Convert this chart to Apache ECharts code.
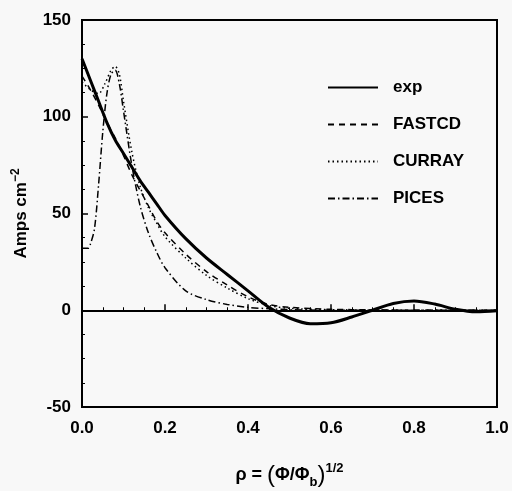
<!DOCTYPE html>
<html>
<head>
<meta charset="utf-8">
<script src="https://cdn.jsdelivr.net/npm/echarts@6/dist/echarts.min.js"></script>
<style>
  html, body { margin: 0; padding: 0; background: #f8f8f8; }
  #chart { width: 512px; height: 491px; }
</style>
</head>
<body>
<div id="chart"></div>
<script>
// [rho, Amps cm^-2]
const expData = [
  [0, 130], [0.02, 119], [0.04, 108], [0.06, 97], [0.08, 88], [0.1, 81],
  [0.12, 74], [0.14, 67], [0.16, 61], [0.18, 55], [0.2, 49], [0.25, 37],
  [0.3, 27], [0.35, 18.5], [0.4, 10], [0.45, 1.5], [0.5, -4], [0.55, -7],
  [0.6, -6.5], [0.65, -3.5], [0.7, 0], [0.75, 3.5], [0.8, 4.8], [0.85, 3.2],
  [0.9, 0.5], [0.95, -0.8], [1.0, -0.3]
];
const fastcdData = [
  [0, 121], [0.02, 114], [0.04, 106], [0.06, 97], [0.08, 89], [0.1, 80],
  [0.12, 70], [0.14, 62], [0.16, 54], [0.18, 46], [0.2, 40], [0.25, 29],
  [0.3, 20], [0.35, 13], [0.4, 7], [0.45, 3], [0.5, 1.5], [0.6, 0.5],
  [0.7, 0.2], [0.8, 0], [1.0, 0]
];
const currayData = [
  [0, 118], [0.02, 114], [0.04, 112], [0.055, 117], [0.07, 124], [0.08, 126],
  [0.09, 122], [0.1, 108], [0.12, 82], [0.14, 64], [0.16, 53], [0.18, 45],
  [0.2, 38], [0.25, 27], [0.3, 18], [0.35, 11.5], [0.4, 6], [0.45, 2.5],
  [0.5, 1], [0.6, 0.3], [0.8, 0], [1.0, 0]
];
const picesData = [
  [0, 32], [0.015, 32], [0.02, 34], [0.03, 42], [0.04, 65], [0.05, 92],
  [0.06, 112], [0.07, 122], [0.08, 124], [0.09, 117], [0.1, 103], [0.12, 75],
  [0.14, 54], [0.16, 40], [0.18, 30], [0.2, 22], [0.25, 10], [0.3, 5.5],
  [0.35, 3], [0.4, 1.5], [0.45, 0.8], [0.5, 0.3], [0.6, 0], [1.0, 0]
];
const seriesNames = ['exp', 'FASTCD', 'CURRAY', 'PICES'];

const chart = echarts.init(document.getElementById('chart'));
const font = 'Liberation Sans, Arial, sans-serif';

function lineSeries(name, data, width, type) {
  return {
    name: name,
    type: 'line',
    data: data,
    showSymbol: false,
    symbol: 'none',
    smooth: 0.3,
    lineStyle: { color: '#000', width: width, type: type },
    itemStyle: { color: '#000' }
  };
}

const series = [
  lineSeries(seriesNames[0], expData, 3, 'solid'),
  lineSeries(seriesNames[1], fastcdData, 1.5, [6, 5]),
  lineSeries(seriesNames[2], currayData, 1.5, [1.5, 3]),
  lineSeries(seriesNames[3], picesData, 1.5, [7, 3, 1.5, 3])
];
// thin zero line
series[0].markLine = {
  silent: true,
  symbol: 'none',
  label: { show: false },
  lineStyle: { color: '#000', width: 1, type: 'solid' },
  data: [{ yAxis: 0 }]
};

chart.setOption({
  backgroundColor: '#f8f8f8',
  animation: false,
  textStyle: { fontFamily: font },
  grid: {
    left: 82, right: 15, top: 20, bottom: 84,
    outerBoundsMode: 'none',
    containLabel: false,
    show: true, borderColor: '#000', borderWidth: 2,
    backgroundColor: 'transparent'
  },
  legend: {
    orient: 'vertical',
    left: 322, top: 74,
    itemWidth: 50, itemHeight: 16, itemGap: 20,
    data: seriesNames,
    itemStyle: { opacity: 0 },
    textStyle: { color: '#000', fontSize: 17, fontWeight: 'bold', fontFamily: font, padding: [0, 0, 0, 10] }
  },
  xAxis: {
    type: 'value',
    min: 0, max: 1, interval: 0.2,
    axisLine: { lineStyle: { color: '#000', width: 2 } },
    axisTick: { inside: true, length: 6, lineStyle: { color: '#000', width: 1.5 } },
    minorTick: { show: true, splitNumber: 4, length: 3, lineStyle: { color: '#000' } },
    splitLine: { show: false },
    axisLabel: {
      color: '#000', fontSize: 17, fontWeight: 'bold', margin: 13,
      formatter: v => v.toFixed(1)
    },
    name: '{a|ρ = }{q|(}{a|Φ/Φ}{s|b}{q|)}{p|1/2}',
    nameLocation: 'middle',
    nameGap: 55,
    nameTextStyle: {
      rich: {
        a: { fontSize: 18, fontWeight: 'bold', color: '#000', fontFamily: font },
        q: { fontSize: 24, color: '#000', fontFamily: font },
        s: { fontSize: 13, fontWeight: 'bold', color: '#000', fontFamily: font, verticalAlign: 'bottom', padding: [10, 0, 0, 0] },
        p: { fontSize: 13, fontWeight: 'bold', color: '#000', fontFamily: font, verticalAlign: 'top', padding: [0, 0, 14, 0] }
      }
    }
  },
  yAxis: {
    type: 'value',
    min: -50, max: 150, interval: 50,
    axisLine: { lineStyle: { color: '#000', width: 2 } },
    axisTick: { inside: true, length: 6, lineStyle: { color: '#000', width: 1.5 } },
    minorTick: { show: true, splitNumber: 4, length: 3, lineStyle: { color: '#000' } },
    splitLine: { show: false },
    axisLabel: { color: '#000', fontSize: 17, fontWeight: 'bold', margin: 11 },
    name: '{a|Amps cm}{p|−2}',
    nameLocation: 'middle',
    nameRotate: 90,
    nameGap: 50,
    nameTextStyle: {
      rich: {
        a: { fontSize: 17, fontWeight: 'bold', color: '#000', fontFamily: font },
        p: { fontSize: 12, fontWeight: 'bold', color: '#000', fontFamily: font, verticalAlign: 'top', padding: [0, 0, 10, 0] }
      }
    }
  },
  series: series
});
</script>
</body>
</html>
